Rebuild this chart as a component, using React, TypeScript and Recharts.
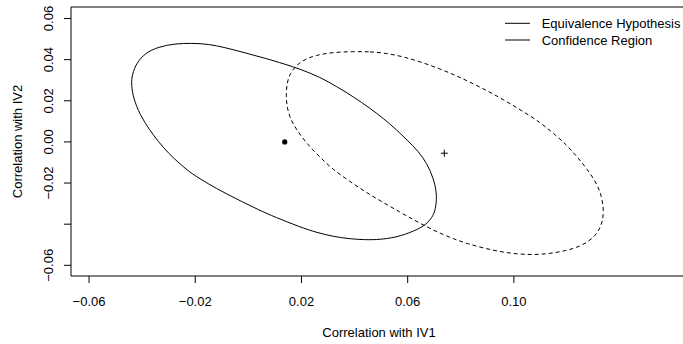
import { ScatterChart, Scatter, XAxis, YAxis, ReferenceArea, Label, Curve } from 'recharts';

// plot limits (R-style box, the right side runs past the picture)
const xDomain = [-0.0668, 0.1652];
const yDomain = [-0.0652, 0.0656];
const xTicks = [-0.06, -0.02, 0.02, 0.06, 0.1];
const yTicks = [-0.06, -0.04, -0.02, 0, 0.02, 0.04, 0.06];
const yHiddenLabels = [-0.04];

const legendNames = ['Equivalence Hypothesis', 'Confidence Region'];

// points read along the drawn ellipses, clockwise from the top (closed by the curve)
const confidenceRegion = [
  { x: -0.0213, y: 0.048 },
  { x: -0.0151, y: 0.0476 },
  { x: -0.0088, y: 0.0459 },
  { x: -0.0012, y: 0.0433 },
  { x: 0.0063, y: 0.0407 },
  { x: 0.0138, y: 0.0378 },
  { x: 0.0195, y: 0.0354 },
  { x: 0.027, y: 0.0315 },
  { x: 0.0333, y: 0.0269 },
  { x: 0.0395, y: 0.022 },
  { x: 0.0458, y: 0.0164 },
  { x: 0.0508, y: 0.0115 },
  { x: 0.0559, y: 0.0058 },
  { x: 0.0597, y: 0.001 },
  { x: 0.064, y: -0.0045 },
  { x: 0.0672, y: -0.0103 },
  { x: 0.0697, y: -0.0176 },
  { x: 0.071, y: -0.0249 },
  { x: 0.0707, y: -0.0314 },
  { x: 0.0697, y: -0.0358 },
  { x: 0.0675, y: -0.0395 },
  { x: 0.0642, y: -0.0424 },
  { x: 0.0571, y: -0.046 },
  { x: 0.0508, y: -0.0473 },
  { x: 0.0458, y: -0.0477 },
  { x: 0.0383, y: -0.0472 },
  { x: 0.032, y: -0.046 },
  { x: 0.0258, y: -0.0441 },
  { x: 0.0195, y: -0.0414 },
  { x: 0.0101, y: -0.0366 },
  { x: 0.0038, y: -0.033 },
  { x: -0.0025, y: -0.029 },
  { x: -0.0088, y: -0.0249 },
  { x: -0.0151, y: -0.0204 },
  { x: -0.0213, y: -0.0155 },
  { x: -0.0257, y: -0.0108 },
  { x: -0.0301, y: -0.0055 },
  { x: -0.0339, y: 0.0001 },
  { x: -0.0372, y: 0.0058 },
  { x: -0.0408, y: 0.0131 },
  { x: -0.0433, y: 0.0212 },
  { x: -0.0441, y: 0.0277 },
  { x: -0.0438, y: 0.0328 },
  { x: -0.0421, y: 0.0384 },
  { x: -0.0389, y: 0.0432 },
  { x: -0.0339, y: 0.0462 },
  { x: -0.0276, y: 0.0478 },
];

const equivalenceRegion = [
  { x: 0.0395, y: 0.0439 },
  { x: 0.0458, y: 0.0439 },
  { x: 0.0521, y: 0.0431 },
  { x: 0.0584, y: 0.0414 },
  { x: 0.0647, y: 0.039 },
  { x: 0.0722, y: 0.0355 },
  { x: 0.0785, y: 0.0321 },
  { x: 0.0847, y: 0.0283 },
  { x: 0.091, y: 0.0242 },
  { x: 0.0973, y: 0.0196 },
  { x: 0.1036, y: 0.0147 },
  { x: 0.1099, y: 0.0095 },
  { x: 0.1149, y: 0.0042 },
  { x: 0.1199, y: -0.0015 },
  { x: 0.1237, y: -0.0071 },
  { x: 0.1275, y: -0.013 },
  { x: 0.1312, y: -0.0201 },
  { x: 0.1331, y: -0.0266 },
  { x: 0.1338, y: -0.033 },
  { x: 0.1335, y: -0.0379 },
  { x: 0.1325, y: -0.0418 },
  { x: 0.1306, y: -0.0457 },
  { x: 0.1275, y: -0.049 },
  { x: 0.1237, y: -0.0513 },
  { x: 0.1199, y: -0.0528 },
  { x: 0.1136, y: -0.0543 },
  { x: 0.1073, y: -0.0549 },
  { x: 0.1011, y: -0.0545 },
  { x: 0.0948, y: -0.0534 },
  { x: 0.0885, y: -0.0516 },
  { x: 0.0823, y: -0.0494 },
  { x: 0.0772, y: -0.0471 },
  { x: 0.0722, y: -0.0444 },
  { x: 0.0672, y: -0.0413 },
  { x: 0.0621, y: -0.0378 },
  { x: 0.0571, y: -0.0341 },
  { x: 0.0508, y: -0.0295 },
  { x: 0.0446, y: -0.0247 },
  { x: 0.0383, y: -0.0193 },
  { x: 0.032, y: -0.0136 },
  { x: 0.027, y: -0.0075 },
  { x: 0.022, y: -0.0008 },
  { x: 0.0182, y: 0.0058 },
  { x: 0.0157, y: 0.0114 },
  { x: 0.0145, y: 0.0172 },
  { x: 0.0142, y: 0.0228 },
  { x: 0.0145, y: 0.0285 },
  { x: 0.0157, y: 0.0334 },
  { x: 0.0182, y: 0.0374 },
  { x: 0.0212, y: 0.0401 },
  { x: 0.0252, y: 0.0421 },
  { x: 0.0318, y: 0.0436 },
];

const estimate = [{ x: 0.0137, y: 0.0 }];
const hypothesis = [{ x: 0.0738, y: -0.0055 }];

const FONT = '"Liberation Sans", Arial, sans-serif';
const FS = 13;

const fmt = (v: number) => v.toFixed(2).replace('-', '\u2212');

const XTick = ({ x, payload }: any) => (
  <text x={x} y={306.3} textAnchor="middle" fontSize={FS} fill="#000" fontFamily={FONT}>
    {fmt(payload.value)}
  </text>
);

const YTick = ({ y, payload }: any) => {
  if (yHiddenLabels.includes(payload.value)) return <g />;
  return (
    <text
      x={52.7}
      y={y}
      transform={`rotate(-90, 52.7, ${y})`}
      textAnchor="middle"
      fontSize={FS}
      fill="#000"
      fontFamily={FONT}
    >
      {fmt(payload.value)}
    </text>
  );
};

const noShape = () => <g />;

const solidLine = (p: any) => <Curve points={p.points} type="basisClosed" stroke="#000" strokeWidth={1} fill="none" />;
const dashedLine = (p: any) => (
  <Curve points={p.points} type="basisClosed" stroke="#000" strokeWidth={1} strokeDasharray="4 3" fill="none" />
);

export default function App() {
  return (
    <div style={{ position: 'absolute', left: 0, top: 0, width: 683, height: 344, overflow: 'hidden', background: '#fff' }}>
      <ScatterChart width={720} height={344} margin={{ top: 7, right: 33, bottom: 0, left: 0 }} style={{ fontFamily: FONT }}>
        <XAxis
          type="number"
          dataKey="x"
          domain={xDomain}
          ticks={xTicks}
          allowDataOverflow
          axisLine={false}
          tickLine={{ stroke: '#000' }}
          tickSize={7}
          tick={<XTick />}
          height={68}
        >
          <Label
            content={() => (
              <text x={379} y={337.3} textAnchor="middle" fontSize={FS} fill="#000" fontFamily={FONT}>
                Correlation with IV1
              </text>
            )}
          />
        </XAxis>
        <YAxis
          type="number"
          dataKey="y"
          domain={yDomain}
          ticks={yTicks}
          allowDataOverflow
          axisLine={false}
          tickLine={{ stroke: '#000' }}
          tickSize={7}
          tick={<YTick />}
          width={71}
        >
          <Label
            content={() => (
              <text
                x={21.7}
                y={141.5}
                transform="rotate(-90, 21.7, 141.5)"
                textAnchor="middle"
                fontSize={FS}
                fill="#000"
                fontFamily={FONT}
              >
                Correlation with IV2
              </text>
            )}
          />
        </YAxis>
        <ReferenceArea
          x1={xDomain[0]}
          x2={xDomain[1]}
          y1={yDomain[0]}
          y2={yDomain[1]}
          stroke="#000"
          strokeWidth={1}
          fill="none"
          fillOpacity={0}
          ifOverflow="visible"
        />
        <Scatter
          name="Confidence Region"
          data={confidenceRegion}
          line={solidLine}
          lineJointType="basisClosed"
          shape={noShape}
          isAnimationActive={false}
        />
        <Scatter
          name="Equivalence Hypothesis"
          data={equivalenceRegion}
          line={dashedLine}
          lineJointType="basisClosed"
          shape={noShape}
          isAnimationActive={false}
        />
        <Scatter
          data={estimate}
          shape={(p: any) => <circle cx={p.cx} cy={p.cy} r={2.6} fill="#000" />}
          isAnimationActive={false}
        />
        <Scatter
          data={hypothesis}
          shape={(p: any) => (
            <path d={`M${p.cx - 3.5},${p.cy}h7M${p.cx},${p.cy - 3.5}v7`} stroke="#000" strokeWidth={1} fill="none" />
          )}
          isAnimationActive={false}
        />
      </ScatterChart>
      <svg
        width={200}
        height={50}
        style={{ position: 'absolute', left: 500, top: 0 }}
        fontFamily={FONT}
        fontSize={FS}
      >
        {legendNames.map((name, i) => {
          const cy = i === 0 ? 23.3 : 40;
          return (
            <g key={name}>
              <line x1={5} x2={30} y1={cy} y2={cy} stroke="#000" strokeWidth={1} />
              <text x={41.7} y={cy + 4.6} fill="#000">
                {name}
              </text>
            </g>
          );
        })}
      </svg>
    </div>
  );
}
